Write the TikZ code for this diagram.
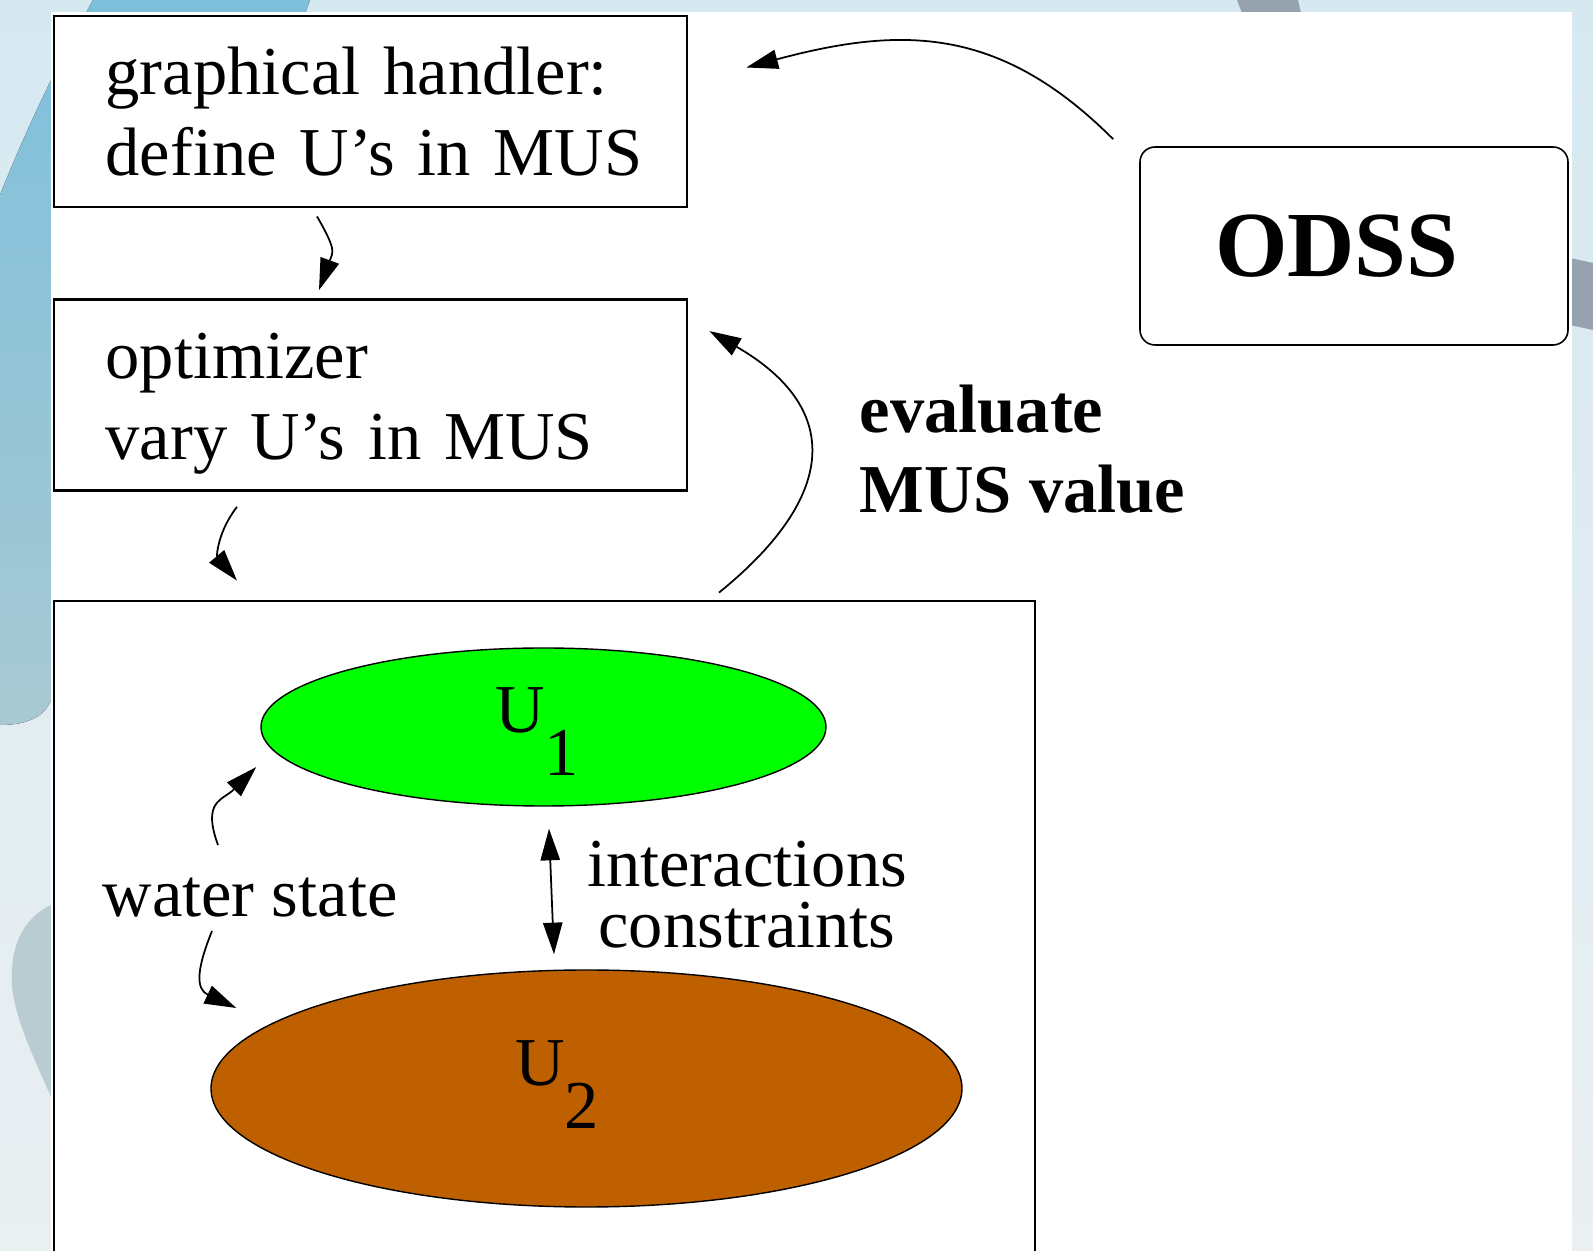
\documentclass[tikz,border=0pt]{standalone}
\usepackage{fontspec}
\setmainfont{Liberation Serif}
\usetikzlibrary{shapes.geometric,arrows.meta}
\definecolor{bgtop}{RGB}{214,233,241}
\definecolor{bgbot}{RGB}{234,239,241}
\definecolor{swtop}{RGB}{126,191,220}
\definecolor{swbot}{RGB}{168,201,210}
\definecolor{blobgray}{RGB}{184,204,210}
\definecolor{bargray}{RGB}{150,162,174}
\definecolor{uonegreen}{RGB}{0,255,0}
\definecolor{utwobrown}{RGB}{191,96,0}
\begin{document}
\begin{tikzpicture}[
		>={Triangle[length=9pt,width=5.5pt]},
		txt/.style={inner sep=0pt, font=\fontsize{19.5}{23}\selectfont},
		box/.style={draw, line width=0.8pt, fill=white, minimum width=6.33cm, minimum height=1.91cm,
			text width=5.3cm, align=left, text height=13.5pt, text depth=23pt, font=\fontsize{19.5}{23}\selectfont},
		unit/.style={ellipse, draw, line width=0.4pt, inner sep=0pt},
		conn/.style={->, line width=0.5pt}
	]
		\useasboundingbox (0,0) rectangle (15.93,-12.51);
		\clip (0,0) rectangle (15.93,-12.51);

		\fill [top color=bgtop, bottom color=bgbot] (0,0) rectangle (15.93,-12.51);
		\fill [top color=swtop, bottom color=swbot] (0.93,0) -- (3.10,0) -- (0.51,-7.0)
			.. controls (0.45,-7.15) and (0.3,-7.25) .. (0,-7.25) -- (0,-1.95)
			.. controls (0.3,-1.2) and (0.6,-0.6) .. (0.93,0);
		\fill [blobgray] (0.51,-9.05) .. controls (0.2,-9.2) and (0.1,-9.5) .. (0.12,-9.85)
			.. controls (0.15,-10.2) and (0.35,-10.6) .. (0.51,-10.97) -- cycle;
		\fill [bargray] (12.37,0) -- (12.98,0) -- (13.01,-0.13) -- (12.42,-0.13) -- cycle;
		\fill [bargray] (15.70,-2.58) -- (15.93,-2.63) -- (15.93,-3.30) -- (15.70,-3.25) -- cycle;
		\fill [white] (0.51,-0.12) rectangle (15.72,-12.6);

		\node [box] at (3.705,-1.115) (gh) {graphical handler:\\\mbox{define U's in MUS}};
		\node [box] at (3.705,-3.95) (opt) {optimizer\\vary U's in MUS};
		\node [draw, line width=0.8pt, minimum width=9.81cm, minimum height=7cm] at (5.445,-9.51) (mus) {};
		\node [draw, line width=0.45pt, rounded corners=0.15cm, minimum width=4.28cm, minimum height=1.98cm,
			text width=2.78cm, align=left, font=\bfseries\fontsize{26.5}{30}\selectfont] at (13.54,-2.46) (odss) {ODSS};
		\node [txt, font=\bfseries\fontsize{19.5}{23}\selectfont, align=left, anchor=base west] at (8.59,-5.13) (ev) {evaluate\\MUS value};

		\node [unit, fill=uonegreen, minimum width=5.65cm, minimum height=1.58cm] at (5.435,-7.27) (uone) {};
		\node [unit, fill=utwobrown, minimum width=7.51cm, minimum height=2.37cm] at (5.865,-10.885) (utwo) {};
		\node [txt] at (5.37,-7.315) (uonelbl) {U\raisebox{-12pt}{1}};
		\node [txt] at (5.57,-10.845) (utwolbl) {U\raisebox{-12pt}{2}};
		\node [txt, anchor=base] at (2.50,-9.17) (ws) {water state};
		\node [txt, font=\fontsize{19.5}{17.6}\selectfont, align=center, anchor=base] at (7.47,-9.48) (ic) {interactions\\constraints};

		\draw [conn] ([shift={(-0.26,0.07)}]odss.north west) to [out=135, in=15, looseness=1.1] ([shift={(0.58,0.44)}]gh.east);
		\draw [conn] ([shift={(-0.535,-0.08)}]gh.south) to [out=-60, in=70, looseness=1.4] ([shift={(-0.515,0.08)}]opt.north);
		\draw [conn] ([shift={(-1.335,-0.15)}]opt.south) to [out=-128, in=130, looseness=1.1] ([shift={(-3.075,0.19)}]mus.north);
		\draw [conn] ([shift={(1.745,0.07)}]mus.north) to [out=39, in=-30, looseness=1.5] ([shift={(0.21,-0.33)}]opt.north east);
		\draw [conn] ([shift={(-0.32,0.72)}]ws.base) to [out=110, in=-135, looseness=1.4] ([shift={(-0.04,-0.40)}]uone.west);
		\draw [conn] ([shift={(-0.38,-0.14)}]ws.base) to [out=-112, in=155, looseness=1.4] ([shift={(0.26,0.805)}]utwo.west);
		\draw [<->, line width=0.5pt] ([shift={(0.055,-0.22)}]uone.south) -- ([shift={(-0.325,0.15)}]utwo.north);

	\end{tikzpicture}
\end{document}
